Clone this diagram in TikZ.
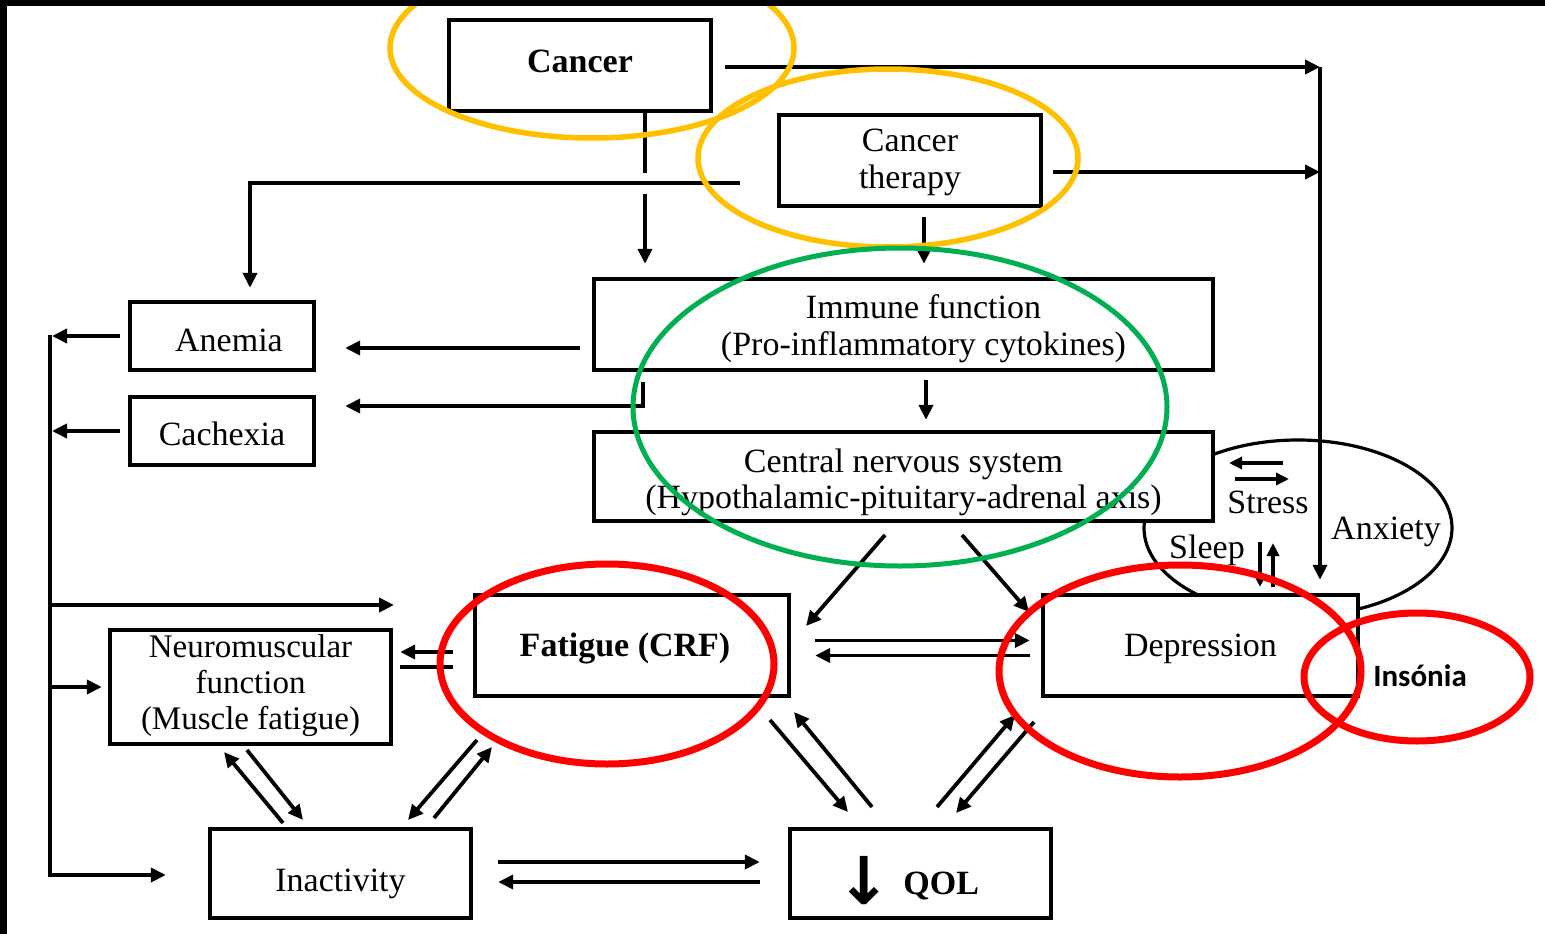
\documentclass[tikz,border=0pt]{standalone}
\usepackage{fontspec}
\setmainfont{Liberation Serif}
\newfontfamily\calib{Carlito}
\newfontfamily\dejab{DejaVu Sans}
\usetikzlibrary{arrows.meta}
\definecolor{oyellow}{HTML}{FFC000}
\definecolor{ogreen}{HTML}{00B050}
\definecolor{ored}{HTML}{FF0000}
\newcommand{\mv}[2]{\raisebox{#1}[\height][\depth]{#2}}
\newcommand{\mlines}[2]{\mv{#1}{\begin{tabular}{@{}c@{}}#2\end{tabular}}}
\begin{document}
\begin{tikzpicture}[x=1pt,y=-1pt,
  box/.style={draw, line width=4.4pt, inner sep=0pt, align=center, fill=white,
    font=\fontsize{34}{37}\selectfont},
  lbl/.style={inner sep=0pt, font=\fontsize{34}{37}\selectfont},
  arr/.style={line width=3.8pt, -{Triangle[length=15pt,width=14pt]}},
  sarr/.style={line width=3.3pt, -{Triangle[length=13pt,width=12pt]}},
  ln/.style={line width=3.8pt},
  ann/.style={line width=5.5pt},
]
\useasboundingbox (0,0) rectangle (1545,934);
\fill[white] (0,0) rectangle (1545,934);

% stress / sleep / anxiety loop (under the boxes)
\draw[line width=3.2pt] (1298,528) ellipse [x radius=154pt, y radius=88pt];

% boxes
\node[box, minimum width=262pt, minimum height=91pt, font=\fontsize{34}{37}\selectfont\bfseries] (cancer) at (580,65.5) {\mv{4pt}{Cancer}};
\node[box, minimum width=262pt, minimum height=91pt] (therapy) at (910,160.5) {\mlines{-2.5pt}{Cancer\\therapy}};
\node[box, minimum width=619pt, minimum height=91pt] (immune) at (903.5,324.5) {\mlines{-5pt}{\hspace*{40pt}Immune function\\\hspace*{40pt}(Pro-inflammatory cytokines)}};
\node[box, minimum width=619pt, minimum height=89pt, font=\fontsize{34}{36}\selectfont] (cns) at (903.5,476.5) {\mlines{-7pt}{Central nervous system\\(Hypothalamic-pituitary-adrenal axis)}};
\node[box, minimum width=184pt, minimum height=68pt] (anemia) at (222,336) {\mv{-4pt}{\hspace*{14pt}Anemia}};
\node[box, minimum width=184pt, minimum height=68pt] (cachexia) at (222,431) {\mv{-3pt}{Cachexia}};
\node[box, minimum width=281pt, minimum height=114pt, font=\fontsize{33}{36}\selectfont] (neuro) at (250.5,687) {\mlines{1pt}{Neuromuscular\\function\\(Muscle fatigue)}};
\node[box, minimum width=314pt, minimum height=101pt, font=\fontsize{34}{37}\selectfont\bfseries] (fatigue) at (632,645.5) {\mv{-3pt}{\hspace*{-14pt}Fatigue (CRF)}};
\node[box, minimum width=315pt, minimum height=101pt] (depr) at (1200.5,645.5) {\mv{-3pt}{Depression}};
\node[box, minimum width=261pt, minimum height=89pt] (inact) at (340.5,873.5) {\mv{-10pt}{Inactivity}};
\node[box, minimum width=261pt, minimum height=89pt] (qol) at (920.5,873.5) {\mv{-10pt}{\dejab\bfseries\fontsize{66}{66}\selectfont ↓}\hspace{12pt}\textbf{QOL}\hspace*{26pt}};

% loop labels and small arrows
\node[lbl] (stress) at (1268,502) {Stress};
\node[lbl] (sleep) at (1207,550) {Sleep};
\node[lbl] (anx) at (1386,532) {Anxiety};
\coordinate (s1) at (1283,463); \coordinate (s2) at (1229,463);
\coordinate (s3) at (1235,479); \coordinate (s4) at (1289,479);
\draw[sarr] (s1) -- (s2);
\draw[sarr] (s3) -- (s4);
\coordinate (z1) at (1260,542); \coordinate (z2) at (1260,587);
\coordinate (z3) at (1273,587); \coordinate (z4) at (1273,543);
\draw[sarr] (z1) -- (z2);
\draw[sarr] (z3) -- (z4);

% Cancer and therapy to the right rail
\coordinate (r1) at (1320,67);
\coordinate (r2) at (1320,172);
\draw[arr, shorten <=12pt] (cancer.east |- r1) -- (r1);
\draw[arr, shorten <=10pt] (therapy.east |- r2) -- (r2);
\draw[arr, shorten >=13pt] (r1) -- (r1 |- depr.north);

% therapy to anemia
\coordinate (tl) at (740,183);
\draw[arr, shorten >=12pt] (tl) -| ([xshift=28pt]anemia.north);

% cancer down to immune (with a hop)
\coordinate (cd) at ([xshift=65pt]cancer.south);
\coordinate (cg1) at (645,173);
\coordinate (cg2) at (645,194);
\draw[ln] (cd) -- (cg1);
\draw[arr, shorten >=13pt] (cg2) -- (cg2 |- immune.north);

% therapy to immune
\coordinate (td) at ([xshift=14pt]therapy.south);
\draw[arr, shorten <=9pt, shorten >=13pt] (td) -- (td |- immune.north);

% immune to anemia, cachexia, cns
\coordinate (ia) at ([yshift=-23.5pt]immune.west);
\draw[arr, shorten <=12pt, shorten >=29pt] (ia) -- (ia -| anemia.east);
\coordinate (ic) at ([xshift=51pt]immune.south west);
\coordinate (ce) at ([yshift=25pt]cachexia.east);
\draw[arr, shorten <=10pt, shorten >=29pt] (ic) |- (ce);
\coordinate (ib) at ([xshift=22.5pt]immune.south);
\draw[arr, shorten <=8pt, shorten >=10pt] (ib) -- (ib |- cns.north);

% left bus
\coordinate (b1) at (50,335);
\coordinate (b3) at (50,605);
\coordinate (b3e) at (394,605);
\coordinate (b4) at (50,687);
\coordinate (b5) at (50,875);
\draw[arr, shorten >=42pt] (b1) -- (b5) -- (b5 -| inact.west);
\draw[arr, shorten <=8pt, shorten >=2pt] (anemia.west) -- (anemia.west -| b1);
\draw[arr, shorten <=8pt, shorten >=2pt] (cachexia.west) -- (cachexia.west -| b1);
\draw[arr] (b3) -- (b3e);
\draw[arr, shorten >=6pt] (b4) -- (b4 -| neuro.west);

% CNS to fatigue and depression
\coordinate (cf1) at (885,535); \coordinate (cf2) at (806,626);
\draw[arr] (cf1) -- (cf2);
\coordinate (cd1) at (962,535); \coordinate (cd2) at (1029,612);
\draw[arr] (cd1) -- (cd2);

% fatigue <-> depression
\draw[arr, shorten <=24pt, shorten >=11pt] ([yshift=5pt]fatigue.east) -- ([yshift=5pt]depr.west);
\draw[arr, shorten <=11pt, shorten >=24pt] ([yshift=-10pt]depr.west) -- ([yshift=-10pt]fatigue.east);

% neuro <-> fatigue
\coordinate (nf1) at ([yshift=-6.5pt]fatigue.west);
\coordinate (nf2) at ([yshift=-21.5pt]fatigue.west);
\draw[arr, shorten <=20pt, shorten >=7pt] (nf1) -- (nf1 -| neuro.east);
\draw[ln, shorten <=7pt, shorten >=20pt] (nf2 -| neuro.east) -- (nf2);

% neuro <-> inactivity
\coordinate (ni1) at (283,823); \coordinate (ni2) at (224,752);
\coordinate (ni3) at (247,750); \coordinate (ni4) at (303,820);
\draw[arr] (ni1) -- (ni2);
\draw[arr] (ni3) -- (ni4);

% fatigue <-> inactivity
\coordinate (fi1) at (477,740); \coordinate (fi2) at (408,820);
\coordinate (fi3) at (434,818); \coordinate (fi4) at (492,747);
\draw[arr] (fi1) -- (fi2);
\draw[arr] (fi3) -- (fi4);

% inactivity <-> qol
\draw[arr, shorten <=25pt, shorten >=28pt] ([yshift=11.5pt]inact.east) -- ([yshift=11.5pt]qol.west);
\draw[arr, shorten <=28pt, shorten >=25pt] ([yshift=-8.5pt]qol.west) -- ([yshift=-8.5pt]inact.east);

% fatigue <-> qol
\coordinate (fq1) at (770,720); \coordinate (fq2) at (848,812);
\coordinate (fq3) at (872,807); \coordinate (fq4) at (794,712);
\draw[arr] (fq1) -- (fq2);
\draw[arr] (fq3) -- (fq4);

% depression <-> qol
\coordinate (dq1) at (937,807); \coordinate (dq2) at (1015,715);
\coordinate (dq3) at (1034,722); \coordinate (dq4) at (956,813);
\draw[arr] (dq1) -- (dq2);
\draw[arr] (dq3) -- (dq4);

% annotations
\draw[ann, oyellow] (592,48) ellipse [x radius=202pt, y radius=90pt];
\draw[ann, oyellow] (888,158) ellipse [x radius=190pt, y radius=89pt];
\draw[line width=5pt, ogreen] (900,407) ellipse [x radius=267pt, y radius=159pt];
\draw[line width=7pt, ored] (607,664) ellipse [x radius=167pt, y radius=100pt];
\draw[line width=7pt, ored] (1180,671) ellipse [x radius=181pt, y radius=106pt];
\draw[line width=7pt, ored] (1417,677) ellipse [x radius=113pt, y radius=64pt];
\node[inner sep=0pt, font=\calib\bfseries\fontsize{31}{31}\selectfont] (ins) at (1420,676) {Insónia};

% black frame edges
\fill[black] (0,0) rectangle (1545,6);
\fill[black] (0,0) rectangle (7,934);
\end{tikzpicture}
\end{document}
